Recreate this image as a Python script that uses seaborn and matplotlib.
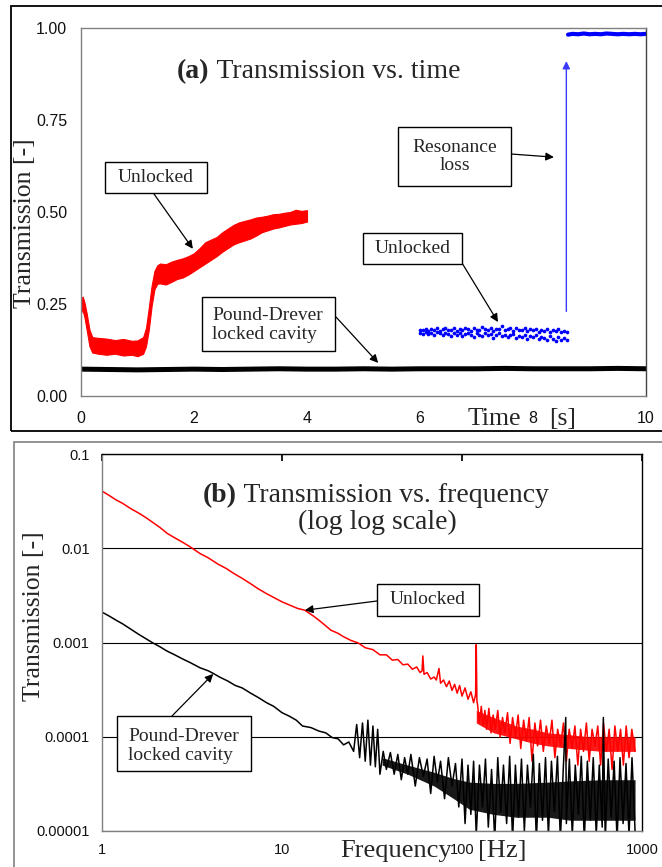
import matplotlib
matplotlib.use("Agg")
import matplotlib.pyplot as plt
from matplotlib.patches import Rectangle
from matplotlib.ticker import FixedLocator, FixedFormatter, NullLocator
import seaborn as sns

# ---------------- data: panel (a) transmission vs time ----------------
t_red = [0.00, 0.03, 0.06, 0.10, 0.15, 0.20, 0.30, 0.45, 0.60, 0.75, 0.90, 1.00,
         1.10, 1.15, 1.20, 1.25, 1.30, 1.35, 1.40, 1.50, 1.60, 1.70, 1.80, 1.90,
         2.00, 2.10, 2.20, 2.30, 2.40, 2.50, 2.60, 2.70, 2.80, 2.90, 3.00, 3.10,
         3.20, 3.30, 3.40, 3.50, 3.60, 3.70, 3.80, 3.90, 4.00]
red_upper = [0.265, 0.270, 0.255, 0.225, 0.180, 0.160, 0.158, 0.156, 0.152, 0.155,
             0.150, 0.151, 0.160, 0.185, 0.240, 0.300, 0.340, 0.355, 0.360, 0.358,
             0.365, 0.370, 0.374, 0.380, 0.388, 0.402, 0.418, 0.425, 0.432, 0.445,
             0.455, 0.465, 0.472, 0.476, 0.480, 0.485, 0.487, 0.490, 0.494, 0.495,
             0.498, 0.500, 0.506, 0.503, 0.505]
red_lower = [0.228, 0.232, 0.215, 0.180, 0.135, 0.118, 0.115, 0.112, 0.115, 0.110,
             0.112, 0.108, 0.115, 0.135, 0.180, 0.245, 0.290, 0.305, 0.306, 0.303,
             0.310, 0.318, 0.322, 0.330, 0.340, 0.350, 0.360, 0.370, 0.380, 0.392,
             0.402, 0.412, 0.418, 0.423, 0.428, 0.436, 0.445, 0.450, 0.455, 0.458,
             0.462, 0.466, 0.468, 0.470, 0.474]

t_locked = [0.0, 0.5, 1.0, 1.5, 2.0, 2.5, 3.0, 3.5, 4.0, 4.5, 5.0, 5.5, 6.0, 6.5,
            7.0, 7.5, 8.0, 8.5, 9.0, 9.5, 10.0]
locked_a = [0.073, 0.072, 0.071, 0.072, 0.073, 0.072, 0.073, 0.074, 0.073, 0.073,
            0.074, 0.073, 0.074, 0.074, 0.074, 0.075, 0.074, 0.074, 0.074, 0.075, 0.074]

t_blue_low = [6.00, 6.05, 6.10, 6.15, 6.20, 6.25, 6.30, 6.35, 6.40, 6.45, 6.50, 6.55,
              6.60, 6.65, 6.70, 6.75, 6.80, 6.85, 6.90, 6.95, 7.00, 7.05, 7.10, 7.15,
              7.20, 7.25, 7.30, 7.35, 7.40, 7.45, 7.50, 7.55, 7.60, 7.65, 7.70, 7.75,
              7.80, 7.85, 7.90, 7.95, 8.00, 8.05, 8.10, 8.15, 8.20, 8.25, 8.30, 8.35,
              8.40, 8.45, 8.50, 8.55, 8.60]
blue_low_row1 = [0.180, 0.178, 0.183, 0.176, 0.181, 0.179, 0.184, 0.177, 0.182, 0.186,
                 0.178, 0.180, 0.185, 0.177, 0.183, 0.179, 0.186, 0.181, 0.176, 0.184,
                 0.180, 0.178, 0.187, 0.182, 0.179, 0.185, 0.176, 0.181, 0.183, 0.190,
                 0.178, 0.182, 0.186, 0.177, 0.184, 0.180, 0.179, 0.185, 0.176, 0.182,
                 0.178, 0.183, 0.175, 0.180, 0.177, 0.182, 0.174, 0.179, 0.176, 0.181,
                 0.173, 0.177, 0.175]
blue_low_row2 = [0.172, 0.169, 0.174, 0.168, 0.171, 0.166, 0.173, 0.170, 0.165, 0.172,
                 0.168, 0.163, 0.171, 0.167, 0.170, 0.164, 0.169, 0.172, 0.166, 0.160,
                 0.170, 0.167, 0.163, 0.171, 0.165, 0.168, 0.158, 0.166, 0.170, 0.162,
                 0.167, 0.160, 0.165, 0.168, 0.157, 0.164, 0.161, 0.166, 0.155, 0.163,
                 0.159, 0.165, 0.154, 0.161, 0.158, 0.152, 0.162, 0.156, 0.150, 0.160,
                 0.153, 0.157, 0.151]

t_blue_high = [8.62, 8.70, 8.80, 8.90, 9.00, 9.10, 9.20, 9.30, 9.40, 9.50, 9.60,
               9.70, 9.80, 9.90, 10.00]
blue_high = [0.982, 0.984, 0.983, 0.985, 0.983, 0.984, 0.983, 0.985, 0.984, 0.983,
             0.984, 0.983, 0.984, 0.983, 0.984]

jump_t = 8.59
jump_from = 0.23
jump_to = 0.91

a_xticks = [0, 2, 4, 6, 8, 10]
a_xlabels = ["0", "2", "4", "6", "8", "10"]
a_yticks = [0.0, 0.25, 0.5, 0.75, 1.0]
a_ylabels = ["0.00", "0.25", "0.50", "0.75", "1.00"]

# ---------------- data: panel (b) transmission vs frequency ----------------
f_unlocked = [1.0, 1.1, 1.2, 1.3, 1.45, 1.6, 1.75, 1.9, 2.1, 2.3, 2.5, 2.8, 3.1, 3.5,
              3.9, 4.4, 4.9, 5.4, 6.0, 6.7, 7.4, 8.2, 9.0, 10, 11, 12.2, 13.4, 15,
              16.5, 18.7, 20.5, 22, 24.2, 26.5, 29, 32, 35, 38, 41, 44, 47, 50, 53,
              56, 58.5, 60, 60.6, 61.5, 64, 67, 70, 72, 74.5, 76, 79, 82, 85, 88, 91,
              94, 97, 100, 104, 108, 112, 116, 119, 120, 121,
              122, 125, 128, 131, 134, 137, 141, 145, 149, 153, 158, 163, 168, 173,
              179, 185, 191, 198, 205, 212, 220, 228, 236, 245, 254, 263, 273, 283,
              294, 305, 316, 328, 340, 353, 366, 380, 394, 409, 424, 440, 456, 473,
              491, 509, 528, 548, 568, 589, 611, 634, 657, 682, 707, 733, 760, 788,
              817, 847, 878, 915]
tr_unlocked = [0.0405, 0.0362, 0.0325, 0.0300, 0.0262, 0.0236, 0.0212, 0.0190, 0.0166,
               0.0144, 0.0131, 0.0116, 0.0103, 0.0088, 0.0079, 0.0068, 0.0061, 0.0054,
               0.0048, 0.0042, 0.0037, 0.0033, 0.0030, 0.0027, 0.0025, 0.0023, 0.0022,
               0.0019, 0.00165, 0.00135, 0.00125, 0.00115, 0.00105, 0.00099, 0.00088,
               0.00084, 0.00074, 0.00074, 0.00065, 0.00066, 0.00058, 0.00059, 0.00052,
               0.00055, 0.00048, 0.00050, 0.00072, 0.00046, 0.00048, 0.00041, 0.00043,
               0.00040, 0.00053, 0.00037, 0.00040, 0.00034, 0.00039, 0.00031, 0.00036,
               0.00029, 0.00035, 0.00027, 0.00033, 0.00025, 0.00030, 0.00023, 0.00028,
               0.00095, 0.00024,
               0.00022, 0.00014, 0.00021, 0.00013, 0.00019, 0.00012, 0.00020, 0.00011,
               0.00017, 0.00012, 0.00019, 0.00010, 0.00016, 0.00011, 0.00018, 0.000085,
               0.00016, 0.00010, 0.00017, 0.000075, 0.00015, 0.00009, 0.00016, 0.000055,
               0.00014, 0.00008, 0.00015, 0.00007, 0.00013, 0.000085, 0.00015, 0.00006,
               0.00012, 0.00008, 0.00014, 0.000055, 0.00012, 0.000075, 0.00013, 0.00005,
               0.00012, 0.00007, 0.00014, 0.000055, 0.00012, 0.00008, 0.00013, 0.00005,
               0.00014, 0.00007, 0.00012, 0.000045, 0.00013, 0.00007, 0.00012, 0.00005,
               0.00013, 0.00006, 0.00012, 0.00007]
# dense core of the unlocked noise floor (lower / upper edge)
f_unlocked_core = [120, 150, 200, 250, 300, 400, 500, 600, 700, 800, 915]
unlocked_core_lo = [0.00014, 0.00011, 0.000095, 0.000085, 0.00008, 0.000075, 0.000072,
                    0.00007, 0.00007, 0.00007, 0.00007]
unlocked_core_hi = [0.00019, 0.00016, 0.00013, 0.00012, 0.00011, 0.000105, 0.0001,
                    0.0001, 0.0001, 0.0001, 0.0001]

f_locked = [1.0, 1.1, 1.2, 1.3, 1.45, 1.6, 1.75, 1.9, 2.1, 2.3, 2.5, 2.8, 3.1, 3.5,
            3.9, 4.15, 4.5, 5.0, 5.5, 6.0, 6.7, 7.4, 8.2, 9.0, 10, 11, 12, 13, 14.5,
            16, 17.5, 19, 20.5, 22, 23.5, 25, 26, 27, 28, 29, 30, 31, 32, 33, 34, 35,
            36.5, 38, 40, 42, 44, 46, 48, 50, 52, 55, 58, 61, 64, 67, 70, 73, 76, 80,
            84, 88, 92, 96, 100, 104, 108, 112, 116, 120, 125, 130, 135, 140, 146,
            152, 158, 164, 170, 177, 184, 191, 198, 206, 214, 222, 231, 240, 249, 259,
            269, 280, 291, 302, 314, 326, 339, 352, 366, 377, 380, 395, 410, 426, 443,
            460, 478, 497, 516, 536, 557, 579, 601, 610, 625, 649, 674, 700, 727, 755,
            785, 815, 847, 880, 915]
tr_locked = [0.00210, 0.00190, 0.00172, 0.00158, 0.00138, 0.00122, 0.00110, 0.00100,
             0.00090, 0.00081, 0.00075, 0.00067, 0.00061, 0.00054, 0.00050, 0.00047,
             0.00043, 0.00039, 0.00035, 0.00033, 0.00029, 0.00026, 0.00023, 0.00021,
             0.00018, 0.000165, 0.00015, 0.00013, 0.000125, 0.000115, 0.00011, 0.000098,
             0.000095, 0.000082, 0.000088, 0.00007, 0.000135, 0.00006, 0.00014, 0.000055,
             0.00015, 0.00005, 0.00013, 0.000048, 0.00012, 0.00004, 0.00007, 0.000045,
             0.000068, 0.00004, 0.000065, 0.000035, 0.00006, 0.00004, 0.000065, 0.00003,
             0.00006, 0.000038, 0.000058, 0.000025, 0.000062, 0.000033, 0.000055,
             0.000022, 0.00006, 0.00003, 0.000052, 0.000018, 0.000058, 0.000012, 0.00005,
             0.000015, 0.000055, 0.000009, 0.00005, 0.000018, 0.000058, 0.000011,
             0.000045, 0.000008, 0.00006, 0.000016, 0.00005, 0.000012, 0.000062,
             0.000008, 0.00005, 0.000014, 0.000058, 0.00001, 0.00005, 0.000018, 0.000065,
             0.000008, 0.000052, 0.000013, 0.00006, 0.000009, 0.000055, 0.000016,
             0.000062, 0.000008, 0.00005, 0.00016, 0.000012, 0.000058, 0.000009, 0.00005,
             0.000015, 0.000062, 0.000008, 0.000055, 0.000013, 0.00006, 0.000009,
             0.00005, 0.000011, 0.00016, 0.000008, 0.000058, 0.000014, 0.000055,
             0.000008, 0.00006, 0.000012, 0.000052, 0.000009, 0.00006, 0.00001]
# dense core of the locked noise floor (lower / upper edge)
f_locked_core = [36, 50, 70, 90, 110, 150, 200, 300, 400, 600, 915]
locked_core_lo = [0.00005, 0.00004, 0.00003, 0.000022, 0.000017, 0.000015, 0.000014,
                  0.000014, 0.000013, 0.000013, 0.000013]
locked_core_hi = [0.00006, 0.00005, 0.000042, 0.000036, 0.000033, 0.000032, 0.000032,
                  0.000033, 0.000034, 0.000035, 0.000035]

b_xticks = [1, 10, 100, 1000]
b_xlabels = ["1", "10", "100", "1000"]
b_yticks = [0.00001, 0.0001, 0.001, 0.01, 0.1]
b_ylabels = ["0.00001", "0.0001", "0.001", "0.01", "0.1"]

# ---------------- styling ----------------
W, H = 662, 867
SERIF = ["Liberation Serif", "DejaVu Serif"]
SANS = ["Liberation Sans", "DejaVu Sans"]
sns.set_theme(style="white")
plt.rcParams["font.family"] = SANS
GRAY = "#808080"


def P(x, y):
    return (x / W, 1 - y / H)


fig = plt.figure(figsize=(W / 100, H / 100), dpi=100)
fig.patch.set_facecolor("white")

# panel frames
fig.add_artist(Rectangle(P(11, 431), 700 / W, (431 - 6) / H, transform=fig.transFigure,
                         fill=False, ec="black", lw=1.3, zorder=-1))
fig.add_artist(Rectangle(P(14, 900), 700 / W, (900 - 442) / H, transform=fig.transFigure,
                         fill=False, ec="#8a8a8a", lw=1.3, zorder=-1))

# ---------------- panel (a) ----------------
ax1 = fig.add_axes([81 / W, 1 - 396 / H, 565 / W, 368 / H])
ax1.set_facecolor("white")
ax1.fill_between(t_red, red_lower, red_upper, color="#ff0000", lw=0.8, edgecolor="#ff0000")
sns.lineplot(x=t_locked, y=locked_a, color="black", lw=3.6, ax=ax1, estimator=None, sort=False)
sns.scatterplot(x=t_blue_low + t_blue_low, y=blue_low_row1 + blue_low_row2, color="#0000ff",
                s=7, linewidth=0, ax=ax1)
sns.lineplot(x=t_blue_high, y=blue_high, color="#0000ff", lw=3.0, ax=ax1, estimator=None, sort=False)
ax1.annotate("", xy=(jump_t, jump_to), xytext=(jump_t, jump_from),
             arrowprops=dict(arrowstyle="-|>", color="#3a3aff", lw=1.0,
                             mutation_scale=11, shrinkA=0, shrinkB=0))
ax1.set_xlim(0, 10)
ax1.set_ylim(0, 1)
ax1.set_xticks(a_xticks, a_xlabels)
ax1.set_yticks(a_yticks, a_ylabels)
ax1.tick_params(axis="both", direction="out", length=4, width=1, color=GRAY,
                labelsize=11.5, labelcolor="#111111")
ax1.tick_params(axis="x", pad=7)
ax1.tick_params(axis="y", pad=6)
for s in ["top", "left", "bottom"]:
    ax1.spines[s].set_color(GRAY)
    ax1.spines[s].set_linewidth(1.0)
ax1.spines["right"].set_color("#444444")
ax1.spines["right"].set_linewidth(1.0)
ax1.set_xlabel("")
ax1.set_ylabel("")

# ---------------- panel (b) ----------------
ax2 = fig.add_axes([102 / W, 1 - 831 / H, 540 / W, 377 / H])
ax2.set_facecolor("white")
ax2.set_xscale("log")
ax2.set_yscale("log")
ax2.fill_between(f_unlocked_core, unlocked_core_lo, unlocked_core_hi, color="#ff0000",
                 lw=0, alpha=0.9)
sns.lineplot(x=f_unlocked, y=tr_unlocked, color="#ff0000", lw=1.1, ax=ax2,
             estimator=None, sort=False)
ax2.fill_between(f_locked_core, locked_core_lo, locked_core_hi, color="black",
                 lw=0, alpha=0.9)
sns.lineplot(x=f_locked, y=tr_locked, color="black", lw=1.1, ax=ax2,
             estimator=None, sort=False)
ax2.set_xlim(1, 1000)
ax2.set_ylim(0.00001, 0.1)
ax2.xaxis.set_major_locator(FixedLocator(b_xticks))
ax2.xaxis.set_major_formatter(FixedFormatter(b_xlabels))
ax2.yaxis.set_major_locator(FixedLocator(b_yticks))
ax2.yaxis.set_major_formatter(FixedFormatter(b_ylabels))
ax2.xaxis.set_minor_locator(NullLocator())
ax2.yaxis.set_minor_locator(NullLocator())
ax2.yaxis.grid(True, color="black", lw=0.8)
ax2.set_axisbelow(True)
ax2.tick_params(axis="x", bottom=False, top=True, direction="in", length=5, color="black",
                labelbottom=True, labeltop=False, labelsize=10.5, pad=9, labelcolor="#111111")
ax2.tick_params(axis="y", direction="out", length=4, width=1, color=GRAY,
                labelsize=10.5, pad=5, labelcolor="#111111")
for s in ["left", "bottom"]:
    ax2.spines[s].set_color(GRAY)
    ax2.spines[s].set_linewidth(1.0)
for s in ["top", "right"]:
    ax2.spines[s].set_color("black")
    ax2.spines[s].set_linewidth(1.0)
ax2.set_xlabel("")
ax2.set_ylabel("")

# ---------------- titles and axis labels ----------------
TFS = 20
ta = fig.text(*P(177, 78), "(a)", family=SERIF, weight="bold", fontsize=TFS,
              ha="left", va="baseline")
tb = fig.text(*P(203, 502), "(b)", family=SERIF, weight="bold", fontsize=TFS,
              ha="left", va="baseline")
fig.canvas.draw()
bba = ta.get_window_extent()
bbb = tb.get_window_extent()
fig.text(bba.x1 / W, 1 - 78 / H, " Transmission vs. time", family=SERIF, fontsize=TFS,
         ha="left", va="baseline")
fig.text(bbb.x1 / W, 1 - 502 / H, " Transmission vs. frequency", family=SERIF, fontsize=TFS,
         ha="left", va="baseline")
fig.text(*P(377, 529), "(log log scale)", family=SERIF, fontsize=TFS, ha="center",
         va="baseline")

fig.text(*P(25, 223), "Transmission [-]", family=SERIF, fontsize=18.5, rotation=90,
         ha="center", va="center")
fig.text(*P(34, 616), "Transmission [-]", family=SERIF, fontsize=18.5, rotation=90,
         ha="center", va="center")

fig.text(*P(521, 425), "Time", family=SERIF, fontsize=18.5, ha="right", va="baseline")
fig.text(*P(549, 425), "[s]", family=SERIF, fontsize=18.5, ha="left", va="baseline")
fig.text(*P(452, 857), "Frequency", family=SERIF, fontsize=19, ha="right", va="baseline")
fig.text(*P(478, 857), "[Hz]", family=SERIF, fontsize=19, ha="left", va="baseline")


# ---------------- callout boxes ----------------
def box(x0, y0, x1, y1, text, tx, ty, ha="center"):
    fig.add_artist(Rectangle(P(x0, y1), (x1 - x0) / W, (y1 - y0) / H,
                             transform=fig.transFigure, fc="white", ec="black",
                             lw=1.0, zorder=5))
    fig.text(*P(tx, ty), text, family=SERIF, fontsize=14, ha=ha, va="center",
             multialignment=ha, linespacing=1.15, zorder=6)


def arrow(ax, start, target):
    ax.annotate("", xy=target, xycoords="data", xytext=P(*start),
                textcoords="figure fraction", annotation_clip=False,
                arrowprops=dict(arrowstyle="-|>", color="black", lw=0.9,
                                mutation_scale=12, shrinkA=0, shrinkB=0))


box(105, 162, 207, 193, "Unlocked", 156, 177.5)
arrow(ax1, (154, 194), (1.98, 0.40))
box(202, 297, 335, 351, "Pound-Drever\nlocked cavity", 212, 325, ha="left")
arrow(ax1, (336, 317), (5.26, 0.09))
box(363, 233, 462, 264, "Unlocked", 412.5, 248.5)
arrow(ax1, (462, 263), (7.38, 0.201))
box(398, 127, 511, 186, "Resonance\nloss", 454.5, 156.5)
arrow(ax1, (511, 154), (8.37, 0.649))

box(377, 584, 479, 616, "Unlocked", 428, 600)
arrow(ax2, (377, 601), (13.4, 0.0022))
box(117, 716, 251, 771, "Pound-Drever\nlocked cavity", 128, 746, ha="left")
arrow(ax2, (172, 716), (4.15, 0.000464))

fig.savefig("out.png", dpi=100, facecolor="white")
